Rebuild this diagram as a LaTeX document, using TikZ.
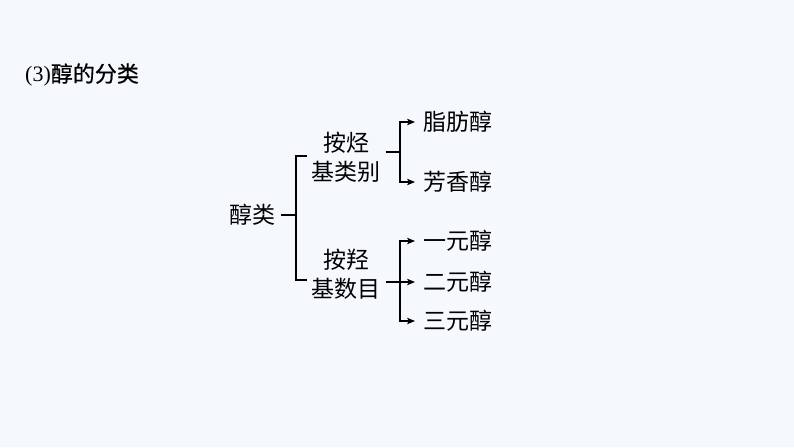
\documentclass[tikz,border=0pt]{standalone}
\usepackage{fontspec}
\setmainfont{Liberation Serif}
\newfontfamily\cjk{Noto Sans CJK SC}
\newfontfamily\cjkb[FakeBold=0.6]{Noto Sans CJK SC}
\usetikzlibrary{arrows.meta}
\definecolor{bg}{HTML}{F5F8FD}
\begin{document}
\begin{tikzpicture}[x=1pt,y=-1pt,
  txt/.style={font=\cjk\fontsize{23}{29}\selectfont, inner sep=0pt, text=black, align=center},
  ttl/.style={font=\fontsize{22}{26}\selectfont, inner sep=0pt, text=black},
  ln/.style={line width=1.3pt, draw=black},
  arr/.style={ln, -{Stealth[length=8pt,width=6.5pt,inset=2pt]}}]
\fill[bg] (0,0) rectangle (794,447);
\useasboundingbox (0,0) rectangle (794,447);
\node[ttl, anchor=west] (title) at (25,75) {(3){\cjkb 醇的分类}};
\node[txt] (root) at (252,215) {醇类};
\node[txt] (g1) at (346,157.5) {按烃\\基类别};
\node[txt] (g2) at (346,274) {按羟\\基数目};
\node[txt, anchor=west] (s1) at (423,122) {脂肪醇};
\node[txt, anchor=west] (s2) at (423,182) {芳香醇};
\node[txt, anchor=west] (s3) at (423,241) {一元醇};
\node[txt, anchor=west] (s4) at (423,282) {二元醇};
\node[txt, anchor=west] (s5) at (423,321) {三元醇};
% root bracket
\coordinate (j0) at (296,215);
\coordinate (jt) at (296,156);
\coordinate (jb) at (296,280);
\draw[ln] ([xshift=6pt]root.east) -- (j0);
\draw[ln] ([xshift=-4pt]g1.west |- jt) -- (jt) -- (jb) -- ([xshift=-4pt]g2.west |- jb);
% top group
\coordinate (t0) at (400,152);
\draw[ln] ([xshift=5pt]g1.east |- t0) -- (t0);
\draw[arr] (t0) |- ([xshift=-8pt]s1.west);
\draw[arr] (t0) |- ([xshift=-8pt]s2.west);
% bottom group
\coordinate (u0) at (400,282);
\draw[ln] ([xshift=5pt]g2.east |- u0) -- (u0);
\draw[arr] (u0) |- ([xshift=-8pt]s3.west);
\draw[arr] (u0) -- ([xshift=-8pt]s4.west);
\draw[arr] (u0) |- ([xshift=-8pt]s5.west);
\end{tikzpicture}
\end{document}
